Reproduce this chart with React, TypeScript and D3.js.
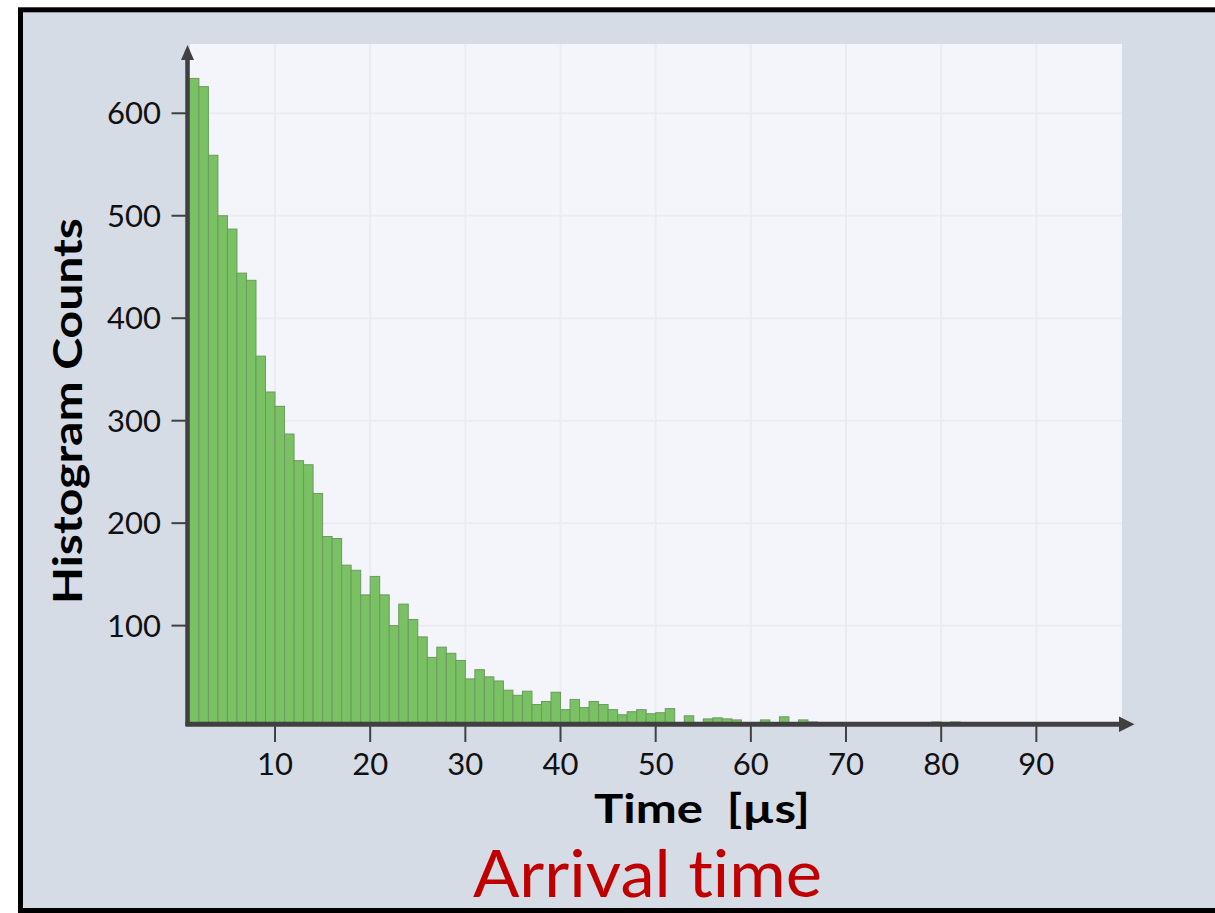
import React from 'react';
import * as d3 from 'd3';

// histogram counts, one bin per microsecond, starting at bin [1,2)
const binStarts = d3.range(1, 99);
const counts = [
  634, 626, 559, 500, 487, 444, 437, 363, 328, 314,
  287, 261, 257, 229, 187, 185, 159, 154, 130, 148,
  130, 100, 121, 106, 89, 69, 79, 73, 66, 48,
  57, 50, 46, 37, 32, 36, 23, 26, 35, 18,
  28, 20, 26, 23, 18, 13, 16, 18, 14, 15,
  19, 4, 12, 3, 9, 10, 9, 8, 4, 3,
  8, 5, 11, 4, 8, 6, 3, 2, 3, 2,
  1, 2, 3, 2, 1, 2, 1, 4, 6, 3,
  6, 2, 1, 2, 1, 1, 2, 1, 1, 2,
  1, 1, 2, 1, 1, 1, 1, 1,
];
const xTicks = [10, 20, 30, 40, 50, 60, 70, 80, 90];
const yTicks = [100, 200, 300, 400, 500, 600];

const W = 1215;
const H = 913;
const font = 'Lato, "Open Sans", sans-serif';

const App = () => {
  const x = d3.scaleLinear().domain([0.75, 99]).range([187, 1122]);
  const y = d3.scaleLinear().domain([4, 667.6]).range([724, 44]);

  const axisColor = '#404040';
  const base = y(4);

  return (
    <svg width={W} height={H} style={{ position: 'absolute', left: 0, top: 0 }}>
      <rect x={0} y={0} width={W} height={H} fill="#ffffff" />
      {/* frame */}
      <rect x={20.5} y={9.8} width={1240} height={900.7} fill="#d6dce6" stroke="#000" strokeWidth={5} />

      {/* plot background */}
      <rect x={190} y={44} width={932} height={680} fill="#f4f5fa" />

      {/* grid */}
      {yTicks.map(t => (
        <line key={'gy' + t} x1={190} x2={1122} y1={y(t)} y2={y(t)} stroke="#eaecf1" strokeWidth={2} />
      ))}
      {xTicks.map(t => (
        <line key={'gx' + t} x1={x(t)} x2={x(t)} y1={44} y2={724} stroke="#eaecf1" strokeWidth={2} />
      ))}

      {/* bars */}
      <g>
        {binStarts.map((b, i) => (
          <rect
            key={b}
            x={x(b)}
            y={Math.min(base, y(counts[i]))}
            width={x(b + 1) - x(b)}
            height={Math.max(0, base - y(counts[i]))}
            fill="#79c163"
            stroke="#6c9a62"
            strokeWidth={1}
          />
        ))}
      </g>

      {/* y axis */}
      <line x1={187.5} x2={187.5} y1={726} y2={56} stroke={axisColor} strokeWidth={4.5} />
      <path d="M181,60 L187.5,45 L194,60 Z" fill={axisColor} />
      {yTicks.map(t => (
        <g key={'ty' + t}>
          <line x1={171.5} x2={186} y1={y(t)} y2={y(t)} stroke={axisColor} strokeWidth={2} />
          <text x={161} y={y(t)} dy="0.36em" textAnchor="end" fontFamily={font} fontSize={31} fill="#111">
            {t}
          </text>
        </g>
      ))}

      {/* x axis */}
      <line x1={185.5} x2={1122} y1={724.3} y2={724.3} stroke={axisColor} strokeWidth={5} />
      <path d="M1119,716.5 L1134.5,724.3 L1119,732 Z" fill={axisColor} />
      {xTicks.map(t => (
        <g key={'tx' + t}>
          <line x1={x(t)} x2={x(t)} y1={726} y2={742} stroke={axisColor} strokeWidth={2} />
          <text x={x(t)} y={775} textAnchor="middle" fontFamily={font} fontSize={31} fill="#111">
            {t}
          </text>
        </g>
      ))}

      {/* labels */}
      <text
        transform="translate(82,411) rotate(-90)"
        textAnchor="middle"
        fontFamily={font}
        fontWeight="bold"
        fontSize={40}
        fill="#000"
        textLength={386}
        lengthAdjust="spacingAndGlyphs"
      >
        Histogram Counts
      </text>
      <text
        x={702}
        y={823}
        textAnchor="middle"
        fontFamily={font}
        fontWeight="bold"
        fontSize={41}
        fill="#000"
        style={{ whiteSpace: 'pre' }}
        textLength={216}
        lengthAdjust="spacingAndGlyphs"
      >
        {'Time  [\u00b5s]'}
      </text>
      <text
        x={647.5}
        y={897}
        textAnchor="middle"
        fontFamily={font}
        fontSize={66}
        fill="#c00000"
        style={{ fontVariantLigatures: 'none' }}
        textLength={349}
        lengthAdjust="spacingAndGlyphs"
      >
        Arrival time
      </text>
    </svg>
  );
};

export default App;
